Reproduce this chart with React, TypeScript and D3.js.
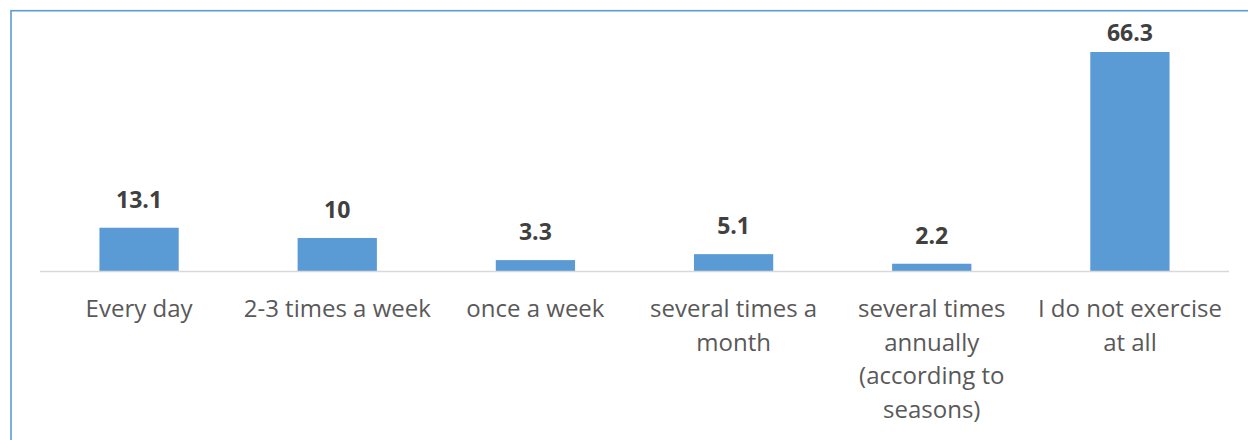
import React from "react";
import * as d3 from "d3";

const categories = [
  "Every day",
  "2-3 times a week",
  "once a week",
  "several times a month",
  "several times annually (according to seasons)",
  "I do not exercise at all",
];
const values = [13.1, 10, 3.3, 5.1, 2.2, 66.3];
const valueLabels = ["13.1", "10", "3.3", "5.1", "2.2", "66.3"];
const categoryLines = [
  ["Every day"],
  ["2-3 times a week"],
  ["once a week"],
  ["several times a", "month"],
  ["several times", "annually", "(according to", "seasons)"],
  ["I do not exercise", "at all"],
];

const W = 1248;
const H = 440;
const FONT = "'Open Sans', 'Noto Sans', sans-serif";

export default function App() {
  const x = d3
    .scaleBand<string>()
    .domain(categories)
    .range([40, 1229])
    .paddingInner(0.6)
    .paddingOuter(0.3);
  const baseY = 271;
  const y = d3.scaleLinear().domain([0, 66.3]).range([baseY, 52]);

  return (
    <svg
      width={W}
      height={H}
      style={{ position: "absolute", left: 0, top: 0, background: "#fff" }}
      fontFamily={FONT}
    >
      <rect x={11} y={10.7} width={W + 50} height={H + 50} fill="none" stroke="#5B9BD5" strokeWidth={1.6} />
      {categories.map((c, i) => (
        <rect
          key={c}
          x={x(c)!}
          y={y(values[i])}
          width={x.bandwidth()}
          height={baseY - y(values[i])}
          fill="#5B9BD5"
        />
      ))}
      <line x1={40} x2={1229} y1={baseY + 0.5} y2={baseY + 0.5} stroke="#D9D9D9" strokeWidth={1.5} />
      {categories.map((c, i) => (
        <text
          key={"v" + c}
          x={x(c)! + x.bandwidth() / 2}
          y={Math.max(y(values[i]) - 20, 41)}
          textAnchor="middle"
          fontWeight="bold"
          fontSize={23}
          fill="#404040"
        >
          {valueLabels[i]}
        </text>
      ))}
      {categories.map((c, i) => (
        <text
          key={"c" + c}
          x={x(c)! + x.bandwidth() / 2}
          textAnchor="middle"
          fontSize={24}
          fill="#595959"
        >
          {categoryLines[i].map((l, j) => (
            <tspan key={j} x={x(c)! + x.bandwidth() / 2} y={317 + j * 33.7}>
              {l}
            </tspan>
          ))}
        </text>
      ))}
    </svg>
  );
}
